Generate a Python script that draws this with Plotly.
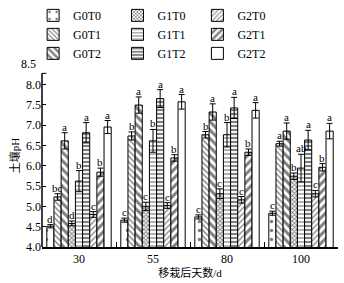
import plotly.graph_objects as go

days = ["30", "55", "80", "100"]
series_names = ["G0T0", "G0T1", "G0T2", "G1T0", "G1T1", "G1T2", "G2T0", "G2T1", "G2T2"]

G0T0 = [4.51, 4.66, 4.74, 4.83]
G0T1 = [5.23, 6.73, 6.76, 6.54]
G0T2 = [6.61, 7.49, 7.32, 6.85]
G1T0 = [4.58, 5.00, 5.31, 5.74]
G1T1 = [5.62, 6.61, 6.76, 5.94]
G1T2 = [6.81, 7.65, 7.42, 6.63]
G2T0 = [4.80, 5.02, 5.16, 5.31]
G2T1 = [5.84, 6.19, 6.33, 5.96]
G2T2 = [6.95, 7.57, 7.36, 6.85]

G0T0_err = [0.04, 0.05, 0.05, 0.05]
G0T1_err = [0.08, 0.10, 0.08, 0.06]
G0T2_err = [0.20, 0.20, 0.20, 0.20]
G1T0_err = [0.06, 0.10, 0.12, 0.08]
G1T1_err = [0.26, 0.28, 0.30, 0.34]
G1T2_err = [0.25, 0.22, 0.26, 0.24]
G2T0_err = [0.07, 0.07, 0.08, 0.08]
G2T1_err = [0.10, 0.08, 0.08, 0.09]
G2T2_err = [0.16, 0.18, 0.19, 0.19]

G0T0_sig = ["d", "c", "c", "c"]
G0T1_sig = ["bc", "b", "b", "a"]
G0T2_sig = ["a", "a", "a", "a"]
G1T0_sig = ["d", "c", "c", "b"]
G1T1_sig = ["b", "b", "b", "ab"]
G1T2_sig = ["a", "a", "a", "a"]
G2T0_sig = ["c", "c", "c", "c"]
G2T1_sig = ["b", "b", "b", "b"]
G2T2_sig = ["a", "a", "a", "a"]

y_ticks = [4.0, 4.5, 5.0, 5.5, 6.0, 6.5, 7.0, 7.5, 8.0]
y_top_label = 8.5

values = [G0T0, G0T1, G0T2, G1T0, G1T1, G1T2, G2T0, G2T1, G2T2]
errors = [G0T0_err, G0T1_err, G0T2_err, G1T0_err, G1T1_err, G1T2_err, G2T0_err, G2T1_err, G2T2_err]
sigs = [G0T0_sig, G0T1_sig, G0T2_sig, G1T0_sig, G1T1_sig, G1T2_sig, G2T0_sig, G2T1_sig, G2T2_sig]

patterns = [
    dict(shape=".", size=9, solidity=0.12),
    dict(shape="\\", size=4, solidity=0.35),
    dict(shape="\\", size=6, solidity=0.5),
    dict(shape="x", size=3, solidity=0.5),
    dict(shape="-", size=4, solidity=0.3),
    dict(shape="-", size=4, solidity=0.55),
    dict(shape="/", size=4, solidity=0.3),
    dict(shape="/", size=6, solidity=0.5),
    dict(shape="", size=6, solidity=0.3),
]
legend_ids = ["legend", "legend", "legend", "legend2", "legend2", "legend2", "legend3", "legend3", "legend3"]

SERIF = "Liberation Serif"

fig = go.Figure()
for name, v, e, pat, lg in zip(series_names, values, errors, patterns, legend_ids):
    fig.add_trace(go.Bar(
        name=name, x=days, y=v, legend=lg,
        marker=dict(color="white", line=dict(color="black", width=1),
                    pattern=dict(fgcolor="black", bgcolor="white", fillmode="overlay", **pat)),
        error_y=dict(type="data", array=e, visible=True, color="black", thickness=1, width=3),
    ))

bargap = 0.13
n = len(series_names)
bw = (1 - bargap) / n
annotations = []
for i, (v, e, s) in enumerate(zip(values, errors, sigs)):
    for g in range(len(days)):
        annotations.append(dict(
            x=g + (i - (n - 1) / 2) * bw, y=v[g] + e[g], xref="x", yref="y",
            text=s[g], showarrow=False, yanchor="bottom", yshift=-2,
            font=dict(family=SERIF, size=11, color="black"),
        ))
annotations.append(dict(
    x=0, y=y_top_label, xref="paper", yref="y", text=f"{y_top_label:.1f}", showarrow=False,
    xanchor="right", xshift=-4, font=dict(family=SERIF, size=12, color="black"),
))

leg_common = dict(yanchor="top", xanchor="left", bgcolor="rgba(0,0,0,0)",
                  font=dict(family=SERIF, size=12), tracegroupgap=0)

fig.update_layout(
    width=344, height=283,
    margin=dict(l=42, r=6, t=63.5, b=36, autoexpand=False),
    paper_bgcolor="white", plot_bgcolor="white",
    barmode="group", bargap=bargap, bargroupgap=0,
    font=dict(family=SERIF, size=12, color="black"),
    showlegend=True,
    legend=dict(x=-0.03, y=1.345, **leg_common),
    legend2=dict(x=0.255, y=1.345, **leg_common),
    legend3=dict(x=0.525, y=1.345, **leg_common),
    annotations=annotations,
    shapes=[
        dict(type="line", xref="paper", yref="y", x0=0, x1=0, y0=4.0, y1=8.27,
             line=dict(color="black", width=1.5)),
        dict(type="line", xref="paper", yref="y", x0=0, x1=0.015, y0=8.27, y1=8.27,
             line=dict(color="black", width=1)),
    ],
    xaxis=dict(type="category", range=[-0.5, 3.5], showline=True, linecolor="black", linewidth=1.5,
               ticks="inside", tickson="boundaries", ticklen=5, tickcolor="black", tickwidth=1,
               showgrid=False, zeroline=False,
               tickfont=dict(family=SERIF, size=12),
               title=dict(text="移栽后天数/d", font=dict(family=SERIF + ", Noto Sans CJK SC", size=11), standoff=4)),
    yaxis=dict(range=[4.0, 8.5], showline=False, tickvals=y_ticks,
               ticktext=[f"{t:.1f}" for t in y_ticks],
               ticks="inside", ticklen=4, tickcolor="black", tickwidth=1,
               showgrid=False, zeroline=False,
               tickfont=dict(family=SERIF, size=12),
               title=dict(text="土壤pH", font=dict(family=SERIF + ", Noto Sans CJK SC", size=11), standoff=4)),
)

fig.write_html("out.html", config={"displayModeBar": False},
               post_script="document.body.style.margin='0';document.body.style.padding='0';")
